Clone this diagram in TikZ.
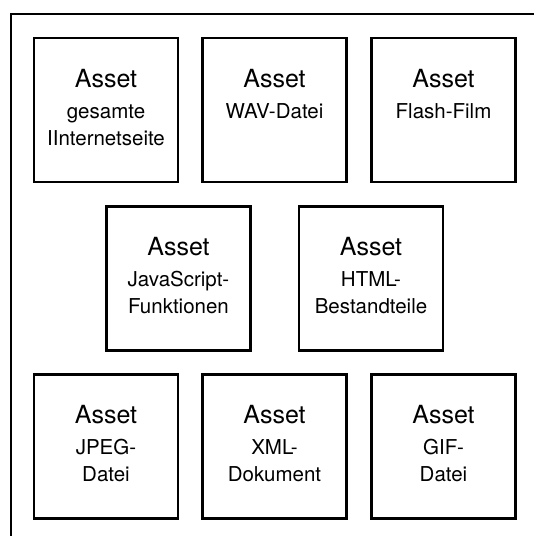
\documentclass[tikz,border=0pt]{standalone}
\usepackage{fontspec}
\setmainfont{TeX Gyre Heros}
\begin{document}
\begin{tikzpicture}[x=1pt, y=-1pt,
  abox/.style={draw=black, line width=2.4pt, minimum width=144pt, minimum height=144pt,
    inner sep=0pt, outer sep=0pt, fill=white},
  atitle/.style={anchor=base, inner sep=0pt, font=\fontsize{25}{30}\selectfont},
  asub/.style={anchor=base, inner sep=0pt, font=\fontsize{20.5}{27}\selectfont},
  frame/.style={draw=black, line width=1.3pt}]
\useasboundingbox (0,0) rectangle (534,536);

% outer frame, open towards the right and bottom edges
\coordinate (fa) at (11,536);
\coordinate (fb) at (11,14);
\coordinate (fc) at (534,14);
\draw[frame] (fa) -- (fb) -- (fc);

% one asset card: name, centre, first and second line of the description
\newcommand\assetcard[4]{%
  \node[abox] (#1) at (#2) {};
  \node[atitle] (#1-t) at ([yshift=-49pt]#1.north) {Asset};
  \node[asub] (#1-a) at ([yshift=-80pt]#1.north) {#3};
  \node[asub] (#1-b) at ([yshift=-107pt]#1.north) {#4};
}

% top row
\assetcard{web}{106,110}{gesamte}{IInternetseite}
\assetcard{wav}{274.5,110}{WAV-Datei}{}
\assetcard{flash}{443.5,110}{Flash-Film}{}

% middle row
\assetcard{js}{178.5,278.5}{JavaScript-}{Funktionen}
\assetcard{html}{371,278.5}{HTML-}{Bestandteile}

% bottom row
\assetcard{jpeg}{106,446.5}{JPEG-}{Datei}
\assetcard{xml}{274.5,446.5}{XML-}{Dokument}
\assetcard{gif}{443.5,446.5}{GIF-}{Datei}
\end{tikzpicture}
\end{document}
